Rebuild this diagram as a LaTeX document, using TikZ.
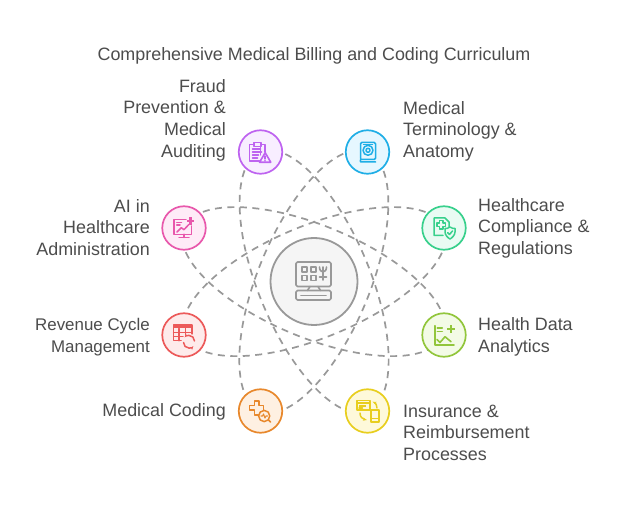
\documentclass[tikz,border=0pt]{standalone}
\usepackage{fontspec}
\setmainfont{Liberation Sans}
\usetikzlibrary{arrows.meta}
\definecolor{txt}{HTML}{4D4D4D}
\definecolor{orb}{HTML}{999999}
\definecolor{cPurple}{HTML}{BE63F0}\definecolor{fPurple}{HTML}{F8EEFF}
\definecolor{cBlue}{HTML}{1FAEE6}\definecolor{fBlue}{HTML}{E6F7FF}
\definecolor{cGreen}{HTML}{38D08C}\definecolor{fGreen}{HTML}{E9FBF3}
\definecolor{cLime}{HTML}{92C63C}\definecolor{fLime}{HTML}{F3FBE6}
\definecolor{cYellow}{HTML}{E8CE1E}\definecolor{fYellow}{HTML}{FEF9DA}
\definecolor{cOrange}{HTML}{E8882C}\definecolor{fOrange}{HTML}{FEF0E2}
\definecolor{cRed}{HTML}{EC5A5A}\definecolor{fRed}{HTML}{FEEBEB}
\definecolor{cPink}{HTML}{E858AC}\definecolor{fPink}{HTML}{FEEBF7}
\tikzset{
  x=1pt,y=-1pt,
  orbit/.style={draw=orb,line width=1.7pt,dash pattern=on 7pt off 5.5pt},
  badge/.style={circle,minimum size=43.5pt,inner sep=0pt,line width=1.7pt},
  hub/.style={circle,minimum size=87pt,inner sep=0pt,line width=1.8pt,draw=orb,fill=black!4},
  lab/.style={text=txt,font=\fontsize{17.9}{21.6}\selectfont,inner sep=0pt},
  labr/.style={lab,align=right,anchor=east},
  labl/.style={lab,align=left,anchor=west},
  ic/.style={line width=1.5pt,line cap=round,line join=round}
}
\begin{document}
\begin{tikzpicture}
\useasboundingbox (0,0) rectangle (618,510);
\fill[white] (0,0) rectangle (618,510);
\coordinate (c) at (314,281.5);
\coordinate (pPurple) at (260.5,152);
\coordinate (pBlue) at (367.5,152);
\coordinate (pGreen) at (444,228);
\coordinate (pLime) at (444,335);
\coordinate (pYellow) at (367.5,411);
\coordinate (pOrange) at (260.5,411);
\coordinate (pRed) at (184,335);
\coordinate (pPink) at (184,228);
% orbits: each runs from one badge to the opposite one and back
\draw[orbit,rotate=67.5] (pBlue) arc[start angle=0,end angle=360,x radius=140.2pt,y radius=56pt];
\draw[orbit,rotate=112.5] (pPurple) arc[start angle=0,end angle=360,x radius=140.2pt,y radius=56pt];
\draw[orbit,rotate=22.5] (pGreen) arc[start angle=0,end angle=360,x radius=140.2pt,y radius=56pt];
\draw[orbit,rotate=157.5] (pPink) arc[start angle=0,end angle=360,x radius=140.2pt,y radius=56pt];
% nodes
\node[hub] (hub) at (c) {};
\node[badge,draw=cPurple,fill=fPurple] (purple) at (pPurple) {};
\node[badge,draw=cBlue,fill=fBlue] (blue) at (pBlue) {};
\node[badge,draw=cGreen,fill=fGreen] (green) at (pGreen) {};
\node[badge,draw=cLime,fill=fLime] (lime) at (pLime) {};
\node[badge,draw=cYellow,fill=fYellow] (yellow) at (pYellow) {};
\node[badge,draw=cOrange,fill=fOrange] (orange) at (pOrange) {};
\node[badge,draw=cRed,fill=fRed] (red) at (pRed) {};
\node[badge,draw=cPink,fill=fPink] (pink) at (pPink) {};
% title and labels
\node[lab,anchor=center] (title) at (314,55.5) {Comprehensive Medical Billing and Coding Curriculum};
\node[labr] (lPurple) at (226,120) {Fraud\\Prevention \&\\Medical\\Auditing};
\node[labl] (lBlue) at (403,131) {Medical\\Terminology \&\\Anatomy};
\node[labl] (lGreen) at (478,228) {Healthcare\\Compliance \&\\Regulations};
\node[labl] (lLime) at (478,337) {Health Data\\Analytics};
\node[labl] (lYellow) at (403,432.5) {Insurance \&\\Reimbursement\\Processes};
\node[labr] (lOrange) at (226,412) {Medical Coding};
\node[labr,font=\fontsize{16.9}{21.6}\selectfont] (lRed) at (150,337) {Revenue Cycle\\Management};
\node[labr] (lPink) at (150,227.5) {AI in\\Healthcare\\Administration};
% hub icon
\begin{scope}[shift={(c)},ic,draw=orb,line width=1.6pt]
  \draw[rounded corners=1.5pt] (-18,-19.5) rectangle (17,5);
  \foreach \a/\b in {-12.3/-14.3,-3.3/-14.3,-12.3/-6,-3.3/-6}
    \draw (\a,\b) rectangle +(5,5);
  \draw (5.5,-14.5) .. controls (5.5,-8) and (12.5,-8) .. (12.5,-14.5);
  \draw (9,-14.5) -- (9,-1.5) (5.5,-4.5) -- (12.5,-4.5);
  \draw (-4,5) -- (-6.5,9) (4,5) -- (6.5,9);
  \draw[rounded corners=1.5pt] (-18,9) rectangle (17,18.5);
  \draw (-13,14) -- (12,14);
\end{scope}
% purple icon
\begin{scope}[shift={(pPurple)},ic,draw=cPurple]
  \draw (0,3) -- (0,-7.5) -- (4.5,-7.5) -- (4.5,0) (-1,9) -- (-11,9) -- (-11,-7.5) -- (-6,-7.5);
  \draw[fill=fPurple] (-6.3,-9.5) rectangle (0.3,-5.7);
  \draw (-8,-3) -- (0,-3) (-8,0) -- (1,0) (-8,3) -- (-2,3) (-8,6) -- (-3,6);
  \draw[fill=fPurple,line width=1.6pt] (4.7,0.7) -- (-1,10.3) -- (10.3,10.3) -- cycle;
  \draw (4.7,4) -- (4.7,7) (4.7,8.8) -- (4.7,8.9);
\end{scope}
% blue icon
\begin{scope}[shift={(pBlue)},ic,draw=cBlue]
  \draw[rounded corners=1.2pt] (-7,6.5) -- (-7,-9.5) -- (8,-9.5) -- (8,7.5) -- (-5.5,7.5) .. controls (-7.5,7.5) and (-7.5,10) .. (-5.5,10) -- (8,10);
  \draw (0.5,-1.7) circle[radius=5pt];
  \draw (0.5,-1.7) circle[radius=2pt];
  \draw (-4,-7.5) -- (5,-7.5);
\end{scope}
% green icon
\begin{scope}[shift={(pGreen)},ic,draw=cGreen]
  \draw (-1,7.3) -- (-10,7.3) -- (-10,-10) -- (1,-10) -- (5,-6) -- (5,-1);
  \draw (-4.5,-7.5) -- (-1,-7.5) -- (-1,-5) -- (1.5,-5) -- (1.5,-1.5) -- (-1,-1.5) -- (-1,1) -- (-4.5,1) -- (-4.5,-1.5) -- (-7,-1.5) -- (-7,-5) -- (-4.5,-5) -- cycle;
  \draw[fill=fGreen] (6,-1) .. controls (8,0.5) and (9.5,0.5) .. (11,0.5) -- (11,4) .. controls (11,7) and (8,10) .. (6,11) .. controls (4,10) and (1,7) .. (1,4) -- (1,0.5) .. controls (2.5,0.5) and (4,0.5) .. (6,-1) -- cycle;
  \draw (3.7,4.7) -- (5.5,6.5) -- (8.5,3);
\end{scope}
% lime icon
\begin{scope}[shift={(pLime)},ic,draw=cLime,line width=1.6pt]
  \draw (-9.3,-9.3) -- (-9.3,10) -- (10,10);
  \draw (-6.7,-6.7) -- (-1.7,-6.7) (-6.7,-3.5) -- (-1.7,-3.5);
  \draw (-7,4.5) -- (-4,7.5) -- (1,1.7) -- (7,6.7);
  \draw[line width=2.2pt,line cap=butt] (6.7,-9.5) -- (6.7,-2) (3,-5.7) -- (10.5,-5.7);
\end{scope}
% yellow icon
\begin{scope}[shift={(pYellow)},ic,draw=cYellow]
  \draw (-10.3,-10.3) rectangle (2.3,-1);
  \draw (-10.3,-8) -- (2.3,-8);
  \fill[cYellow] (-8.5,-6.3) rectangle (-2,-4.3);
  \draw (-8.5,-2.8) -- (-5,-2.8);
  \draw (3.3,-1) rectangle (11.3,11);
  \draw (3.3,7.5) -- (11.3,7.5);
  \draw[-{Stealth[length=4pt]}] (9.5,-3) .. controls (9.5,-6) and (8,-8) .. (5,-9.3);
  \draw[-{Stealth[length=4pt]}] (-7.5,2) .. controls (-7.5,6) and (-5,8) .. (-0.5,9);
\end{scope}
% orange icon
\begin{scope}[shift={(pOrange)},ic,draw=cOrange]
  \draw (-2,4) -- (-6,4) -- (-6,-1) -- (-11,-1) -- (-11,-5.5) -- (-6,-5.5) -- (-6,-10) -- (-1.5,-10) -- (-1.5,-5.5) -- (3,-5.5) -- (3,-1.5);
  \draw[fill=fOrange] (3.7,5) circle[radius=5.6pt];
  \draw (8,9) -- (10,11);
  \draw[line width=1.1pt] (0.5,5) -- (2,5) -- (3,3) -- (4.5,7) -- (5.5,5) -- (7,5);
\end{scope}
% red icon
\begin{scope}[shift={(pRed)},ic,draw=cRed]
  \draw (-1,5.7) -- (-10.3,5.7) -- (-10.3,-10) -- (8,-10) -- (8,-1);
  \fill[cRed] (-10.3,-10) rectangle (8,-6.5);
  \draw (-10.3,-2.5) -- (8,-2.5) (-10.3,1.5) -- (0,1.5);
  \draw (-5,-6.5) -- (-5,5.7) (1.5,-6.5) -- (1.5,1);
  \draw[fill=fRed,draw=none] (5,6.7) circle[radius=7.5pt];
  \draw[-{Stealth[length=4pt]}] (-0.5,7.5) arc[start angle=180,end angle=320,radius=5.6pt];
  \draw[-{Stealth[length=4pt]}] (10.5,6) arc[start angle=0,end angle=140,radius=5.6pt];
\end{scope}
% pink icon
\begin{scope}[shift={(pPink)},ic,draw=cPink]
  \draw (2,-8.7) -- (-10,-8.7) -- (-10,6.3) -- (7.3,6.3) -- (7.3,-2);
  \draw (0,6.3) -- (0,9.5) (-5,9.7) -- (5,9.7);
  \draw (-7,4) -- (-2.7,-0.3) -- (0,1.7) -- (5,-3.7);
  \draw (-7.3,-5.7) -- (-2.5,-5.7) (-7.3,-3) -- (-4,-3);
  \draw[line width=2.4pt,line cap=butt] (6.3,-10.5) -- (6.3,-3) (2.5,-6.7) -- (10,-6.7);
\end{scope}
\end{tikzpicture}
\end{document}
